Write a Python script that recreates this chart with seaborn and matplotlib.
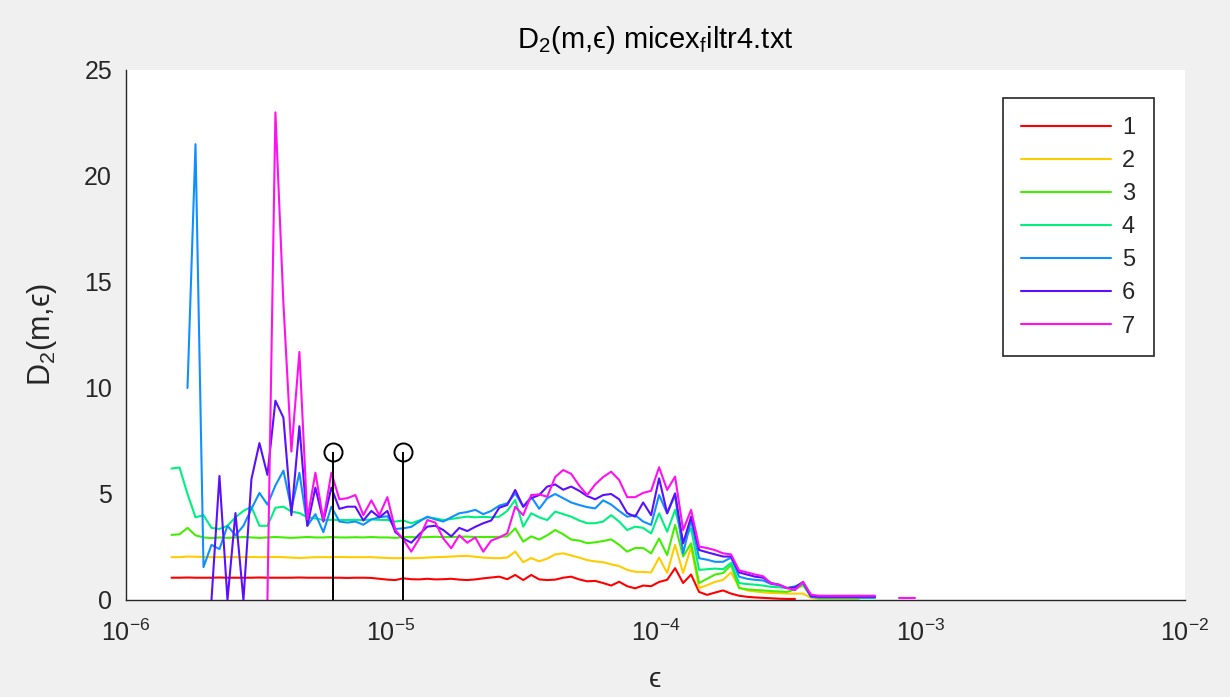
import numpy as np
import pandas as pd
import matplotlib
matplotlib.use("Agg")
import matplotlib.pyplot as plt
import seaborn as sns
from matplotlib.ticker import LogLocator, NullFormatter, FixedLocator

nan = np.nan

# epsilon sample grid (log-spaced sampling of the measurement)
eps = [1.486e-6, 1.593e-6, 1.708e-6, 1.831e-6, 1.963e-6, 2.104e-6, 2.255e-6, 2.418e-6, 2.592e-6, 2.778e-6,
       2.978e-6, 3.193e-6, 3.423e-6, 3.669e-6, 3.933e-6, 4.216e-6, 4.520e-6, 4.845e-6, 5.194e-6, 5.568e-6,
       5.969e-6, 6.399e-6, 6.859e-6, 7.353e-6, 7.883e-6, 8.450e-6, 9.059e-6, 9.711e-6, 1.041e-5, 1.116e-5,
       1.196e-5, 1.282e-5, 1.375e-5, 1.474e-5, 1.580e-5, 1.693e-5, 1.815e-5, 1.946e-5, 2.086e-5, 2.236e-5,
       2.397e-5, 2.570e-5, 2.755e-5, 2.953e-5, 3.166e-5, 3.394e-5, 3.638e-5, 3.900e-5, 4.181e-5, 4.482e-5,
       4.805e-5, 5.151e-5, 5.522e-5, 5.919e-5, 6.345e-5, 6.802e-5, 7.292e-5, 7.817e-5, 8.380e-5, 8.983e-5,
       9.630e-5, 1.032e-4, 1.107e-4, 1.186e-4, 1.272e-4, 1.363e-4, 1.461e-4, 1.567e-4, 1.679e-4, 1.800e-4,
       1.930e-4, 2.069e-4, 2.218e-4, 2.378e-4, 2.549e-4, 2.732e-4, 2.929e-4, 3.140e-4, 3.366e-4, 3.608e-4,
       3.868e-4, 4.147e-4, 4.445e-4, 4.765e-4, 5.108e-4, 5.476e-4, 5.870e-4, 6.293e-4, 6.746e-4, 7.232e-4,
       7.752e-4, 8.311e-4, 8.909e-4, 9.551e-4, 1.024e-3]

d2_m1 = [1.05, 1.05, 1.06, 1.05, 1.05, 1.05, 1.06, 1.05, 1.05, 1.05,
         1.05, 1.06, 1.05, 1.05, 1.05, 1.05, 1.06, 1.05, 1.05, 1.05,
         1.05, 1.05, 1.04, 1.05, 1.05, 1.04, 1.00, 0.96, 0.94, 1.02,
         0.98, 0.97, 1.00, 0.97, 0.98, 1.00, 0.96, 0.94, 0.97, 1.02,
         1.06, 1.10, 0.98, 1.18, 0.94, 1.18, 0.97, 0.94, 0.96, 1.05,
         1.10, 0.97, 0.88, 0.90, 0.80, 0.68, 0.86, 0.65, 0.55, 0.68,
         0.65, 0.85, 0.95, 1.50, 0.80, 1.20, 0.38, 0.24, 0.35, 0.45,
         0.30, 0.20, 0.15, 0.12, 0.10, 0.08, 0.06, 0.05, 0.05, nan,
         nan, nan, nan, nan, nan, nan, nan, nan, nan, nan,
         nan, nan, nan, nan, nan]

d2_m2 = [2.02, 2.02, 2.05, 2.04, 2.03, 2.02, 2.02, 2.03, 2.02, 2.02,
         2.03, 2.02, 2.02, 2.03, 2.02, 2.00, 1.98, 2.00, 2.02, 2.02,
         2.02, 2.03, 2.02, 2.02, 2.02, 2.02, 2.00, 1.98, 1.97, 1.98,
         1.97, 1.98, 2.00, 2.02, 2.03, 2.05, 2.07, 2.08, 2.04, 2.00,
         1.98, 1.97, 2.00, 2.28, 1.78, 1.98, 1.82, 1.95, 2.15, 2.20,
         2.10, 2.00, 1.88, 1.82, 1.78, 1.68, 1.60, 1.42, 1.33, 1.32,
         1.30, 2.00, 1.28, 2.60, 1.27, 2.50, 0.56, 0.70, 0.85, 0.95,
         1.30, 0.60, 0.45, 0.40, 0.36, 0.33, 0.32, 0.30, 0.30, 0.30,
         0.10, 0.05, 0.05, 0.05, 0.05, 0.05, 0.05, nan, nan, nan,
         nan, nan, nan, nan, nan]

d2_m3 = [3.07, 3.10, 3.40, 3.05, 2.95, 2.92, 2.95, 2.93, 2.95, 2.97,
         2.95, 2.93, 2.95, 2.97, 2.95, 2.93, 2.95, 2.97, 2.95, 2.95,
         2.97, 2.95, 2.95, 2.96, 2.95, 2.97, 2.95, 2.95, 2.93, 2.97,
         2.97, 2.95, 2.97, 2.98, 2.97, 2.97, 2.98, 2.99, 2.97, 2.97,
         2.97, 2.98, 3.00, 3.38, 2.75, 3.00, 2.85, 3.05, 3.30, 3.10,
         2.85, 2.80, 2.68, 2.72, 2.78, 2.86, 2.60, 2.28, 2.45, 2.45,
         2.20, 2.90, 2.12, 3.54, 2.05, 2.67, 0.80, 1.00, 1.20, 1.27,
         1.65, 0.56, 0.50, 0.47, 0.45, 0.42, 0.40, 0.38, 0.50, 0.70,
         0.15, 0.10, 0.10, 0.10, 0.10, 0.10, 0.10, 0.10, 0.10, nan,
         nan, nan, nan, nan, nan]

d2_m4 = [6.20, 6.25, 5.00, 3.90, 4.00, 3.40, 3.35, 3.50, 3.90, 4.20,
         4.40, 3.50, 3.50, 4.35, 4.40, 4.17, 4.10, 3.90, 3.85, 3.77,
         3.78, 3.77, 3.77, 3.78, 3.77, 3.80, 3.78, 3.77, 3.70, 3.75,
         3.62, 3.75, 3.90, 3.85, 3.77, 3.82, 3.88, 3.93, 3.90, 3.92,
         3.90, 3.93, 4.20, 4.72, 3.46, 4.09, 3.90, 3.77, 4.17, 4.05,
         3.93, 3.75, 3.62, 3.62, 3.70, 4.00, 3.70, 3.30, 3.46, 3.40,
         3.14, 4.09, 3.22, 4.25, 2.75, 3.38, 1.42, 1.45, 1.48, 1.45,
         1.75, 0.80, 0.75, 0.72, 0.68, 0.62, 0.60, 0.56, 0.65, 0.78,
         0.19, 0.10, 0.10, 0.10, 0.10, 0.10, 0.10, 0.10, 0.10, nan,
         nan, nan, nan, nan, nan]

d2_m5 = [nan, nan, 10.0, 21.5, 1.55, 2.60, 2.40, 3.50, 3.05, 3.50,
         4.30, 5.05, 4.50, 5.40, 6.10, 4.30, 6.00, 3.50, 4.05, 3.20,
         4.40, 3.70, 3.65, 3.70, 3.55, 3.80, 3.90, 3.95, 3.35, 3.38,
         3.45, 3.70, 3.93, 3.80, 3.70, 3.90, 4.09, 4.15, 4.25, 4.05,
         4.20, 4.45, 4.56, 5.03, 4.40, 4.87, 4.30, 4.80, 5.00, 4.80,
         4.60, 4.48, 4.38, 4.32, 4.70, 4.50, 4.20, 3.93, 4.00, 3.70,
         3.54, 4.95, 4.09, 4.95, 2.20, 3.77, 1.97, 1.90, 1.80, 1.80,
         2.00, 1.10, 1.00, 0.95, 0.92, 0.75, 0.70, 0.56, 0.60, 0.80,
         0.15, 0.12, 0.12, 0.12, 0.12, 0.12, 0.12, 0.12, 0.12, nan,
         nan, nan, nan, nan, nan]

d2_m6 = [nan, nan, nan, nan, nan, 0.00, 5.85, 0.00, 4.10, 0.00,
         5.70, 7.40, 5.90, 9.40, 8.60, 4.00, 8.20, 3.50, 5.30, 3.70,
         5.30, 4.30, 4.40, 4.40, 3.75, 4.20, 3.90, 4.20, 3.20, 2.90,
         2.70, 3.10, 3.46, 3.50, 3.30, 3.00, 3.40, 3.25, 3.45, 3.62,
         3.75, 4.35, 4.48, 5.19, 4.40, 4.80, 4.95, 5.35, 5.45, 5.20,
         5.35, 5.15, 4.90, 4.75, 4.95, 5.00, 4.75, 4.10, 3.93, 4.60,
         4.00, 5.74, 4.09, 5.03, 2.67, 3.93, 2.36, 2.25, 2.15, 2.05,
         2.05, 1.30, 1.20, 1.10, 1.05, 0.80, 0.72, 0.56, 0.60, 0.85,
         0.18, 0.15, 0.15, 0.15, 0.15, 0.15, 0.15, 0.15, 0.15, nan,
         nan, nan, nan, nan, nan]

d2_m7 = [nan, nan, nan, nan, nan, nan, nan, nan, nan, nan,
         nan, nan, 0.00, 23.0, 14.0, 7.00, 11.7, 3.80, 6.00, 3.77,
         6.00, 4.75, 4.80, 4.95, 4.00, 4.70, 4.00, 4.85, 3.30, 2.85,
         2.28, 2.90, 3.77, 3.65, 2.90, 2.44, 3.05, 2.70, 2.95, 2.28,
         2.80, 2.95, 3.14, 4.40, 4.00, 4.95, 4.98, 4.87, 5.80, 6.13,
         5.95, 5.40, 4.95, 5.45, 5.80, 6.05, 5.66, 4.85, 4.85, 5.05,
         5.15, 6.26, 5.19, 5.82, 3.30, 4.25, 2.52, 2.45, 2.35, 2.20,
         2.15, 1.40, 1.30, 1.20, 1.12, 0.78, 0.72, 0.56, 0.47, 0.85,
         0.25, 0.20, 0.20, 0.20, 0.20, 0.20, 0.20, 0.20, 0.20, nan,
         nan, 0.08, 0.08, 0.08, nan]

series_names = ["1", "2", "3", "4", "5", "6", "7"]
all_series = [d2_m1, d2_m2, d2_m3, d2_m4, d2_m5, d2_m6, d2_m7]
line_colors = ["#ff0000", "#ffcc00", "#44ee00", "#00f080", "#1090ff", "#5a10ff", "#ff10f0"]

stem_eps = [6.05e-6, 1.11e-5]
stem_val = [7.0, 7.0]

# long-format table; contiguous non-missing runs become separate units
rows = []
for name, vals in zip(series_names, all_series):
    seg = 0
    prev_missing = True
    for e, v in zip(eps, vals):
        if np.isnan(v):
            prev_missing = True
            continue
        if prev_missing:
            seg += 1
            prev_missing = False
        rows.append((e, v, name, f"{name}_{seg}"))
df = pd.DataFrame(rows, columns=["eps", "D2", "m", "seg"])

sns.set_style("white")
plt.rcParams["font.family"] = ["Liberation Sans", "DejaVu Sans"]
plt.rcParams["mathtext.fontset"] = "custom"
plt.rcParams["mathtext.rm"] = "Liberation Sans"
plt.rcParams["mathtext.it"] = "Liberation Sans:italic"
plt.rcParams["mathtext.bf"] = "Liberation Sans:bold"

dark = "#262626"
fig = plt.figure(figsize=(12.3, 6.97), dpi=100, facecolor="#f0f0f0")
ax = fig.add_axes([0.1024, 0.1392, 0.861, 0.7604])
ax.set_facecolor("white")

sns.lineplot(data=df, x="eps", y="D2", hue="m", hue_order=series_names,
             units="seg", estimator=None, sort=False,
             palette=dict(zip(series_names, line_colors)), lw=1.5, ax=ax)

ax.vlines(stem_eps, 0, stem_val, colors="black", lw=1.4, zorder=5)
ax.plot(stem_eps, stem_val, "o", mfc="none", mec="black", ms=13, mew=1.4, zorder=6)

ax.set_xscale("log")
ax.set_xlim(1e-6, 1e-2)
ax.set_ylim(0, 25)
ax.yaxis.set_major_locator(FixedLocator([0, 5, 10, 15, 20, 25]))
ax.xaxis.set_major_locator(LogLocator(base=10, numticks=10))
ax.xaxis.set_minor_locator(LogLocator(base=10, subs=np.arange(2, 10), numticks=50))
ax.xaxis.set_minor_formatter(NullFormatter())

for side in ["top", "right"]:
    ax.spines[side].set_visible(False)
for side in ["left", "bottom"]:
    ax.spines[side].set_color(dark)
    ax.spines[side].set_linewidth(1.0)

ax.tick_params(axis="both", which="major", direction="in", length=7, width=1.0,
               colors=dark, labelsize=18)
ax.tick_params(axis="y", which="major", pad=10)
ax.tick_params(axis="x", which="major", pad=14)
ax.tick_params(axis="x", which="minor", direction="in", length=4, width=0.9, colors=dark)

ax.set_title("D$_2$(m,ϵ) micex$_\\mathrm{f}$iltr4.txt", fontsize=21, color="black", pad=16)
ax.set_xlabel("ϵ", fontsize=20, color=dark, labelpad=15)
ax.set_ylabel("D$_2$(m,ϵ)", fontsize=22, color=dark, labelpad=18)

handles, labels = ax.get_legend_handles_labels()
leg = ax.legend(handles, labels, loc="upper right", bbox_to_anchor=(0.9707, 0.947),
                frameon=True, fancybox=False, edgecolor=dark, framealpha=1,
                fontsize=17, handlelength=3.8, handletextpad=0.45, labelspacing=0.47,
                borderpad=0.8, borderaxespad=0.0, title=None)
leg.get_frame().set_linewidth(1.2)

fig.savefig("out.png", dpi=100, facecolor=fig.get_facecolor())
